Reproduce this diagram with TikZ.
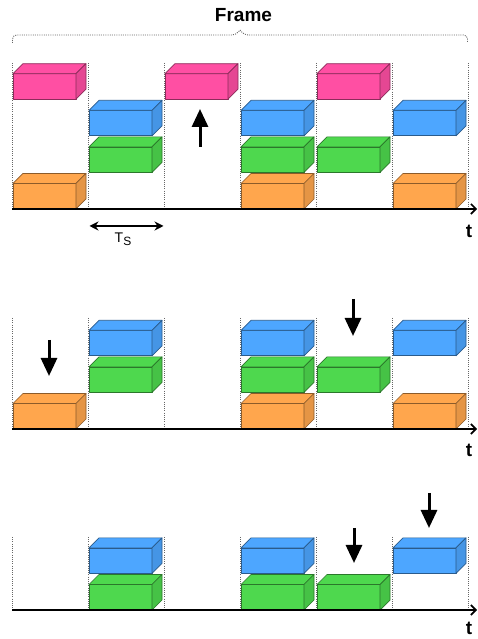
\documentclass[tikz,border=0pt]{standalone}
\usepackage{fontspec}
\setmainfont{Liberation Sans}
\usetikzlibrary{arrows.meta}
\definecolor{cpink}{HTML}{FF4FA3}
\definecolor{cblue}{HTML}{4DA6FF}
\definecolor{cgreen}{HTML}{4ED84E}
\definecolor{corange}{HTML}{FFA64D}
\definecolor{cgrid}{HTML}{666666}
\newcommand{\mybox}[3]{%
  % #1 = left x, #2 = bottom y, #3 = colour
  \filldraw[boxedge,draw=#3!55!black,fill=#3] (#1,#2) rectangle ++(63,25.5);
  \filldraw[boxedge,draw=#3!55!black,fill=#3] (#1,#2+25.5) -- ++(10,10) -- ++(63,0) -- ++(-10,-10) -- cycle;
  \filldraw[boxedge,draw=#3!55!black,fill=#3!90!black] (#1+63,#2) -- ++(10,10) -- ++(0,25.5) -- ++(-10,-10) -- cycle;
}
\begin{document}
\begin{tikzpicture}[x=1pt,y=1pt,
  boxedge/.style={line width=0.7pt,line join=round},
  gridline/.style={cgrid,line width=0.9pt,dash pattern=on 1pt off 1.2pt},
  axis/.style={black,line width=1.8pt,-{Straight Barb[length=5pt,width=10pt,line width=1.6pt]}},
  evt/.style={black,line width=3pt,-{Triangle[length=18pt,width=16pt]}},
  period/.style={black,line width=1.3pt,{Stealth[length=9pt,width=9pt]}-{Stealth[length=9pt,width=9pt]}},
  lbl/.style={inner sep=0pt,font=\bfseries\fontsize{19}{19}\selectfont}]
\useasboundingbox (0,0) rectangle (477,639);

% ---------- Frame brace ----------
\node[lbl] (frame) at (243.5,624) {Frame};
\draw[gridline,rounded corners=4pt] (12.5,596) -- (12.5,604) -- (236,604) -- (240,609);
\draw[gridline,rounded corners=4pt] (240,609) -- (244,604) -- (467.5,604) -- (467.5,596);

% ---------- grid lines ----------
\foreach \x in {12,88,164,240,316,392,468} {
  \draw[gridline] (\x,576) -- (\x,430);
  \draw[gridline] (\x,321) -- (\x,210);
  \draw[gridline] (\x,102) -- (\x,29);
}

% ---------- panel 1 (axis at 430) ----------
\mybox{13}{430}{corange}
\mybox{13}{539.8}{cpink}
\mybox{89}{466.6}{cgreen}
\mybox{89}{503.2}{cblue}
\mybox{165}{539.8}{cpink}
\mybox{241}{430}{corange}
\mybox{241}{466.6}{cgreen}
\mybox{241}{503.2}{cblue}
\mybox{317}{466.6}{cgreen}
\mybox{317}{539.8}{cpink}
\mybox{393}{430}{corange}
\mybox{393}{503.2}{cblue}
\coordinate (a1) at (12,430);
\coordinate (a1e) at (477,430);
\draw[axis] (a1) -- (a1e);
\node[lbl] (t1) at (469,408) {t};
\coordinate (up1) at (200,492);
\coordinate (up1e) at (200,530);
\draw[evt] (up1) -- (up1e);
\coordinate (ts1) at (89.5,413);
\coordinate (ts2) at (163.5,413);
\draw[period] (ts1) -- (ts2);
\node[inner sep=0pt] (ts) at (123,400) {\fontsize{14}{14}\selectfont T\raisebox{-3pt}{\fontsize{12}{12}\selectfont S}};

% ---------- panel 2 (axis at 210) ----------
\mybox{13}{210}{corange}
\mybox{89}{246.6}{cgreen}
\mybox{89}{283.2}{cblue}
\mybox{241}{210}{corange}
\mybox{241}{246.6}{cgreen}
\mybox{241}{283.2}{cblue}
\mybox{317}{246.6}{cgreen}
\mybox{393}{210}{corange}
\mybox{393}{283.2}{cblue}
\coordinate (a2) at (12,210);
\coordinate (a2e) at (477,210);
\draw[axis] (a2) -- (a2e);
\node[lbl] (t2) at (469,189) {t};
\coordinate (d1) at (49,299);
\coordinate (d1e) at (49,263);
\draw[evt] (d1) -- (d1e);
\coordinate (d2) at (353,340);
\coordinate (d2e) at (353,303);
\draw[evt] (d2) -- (d2e);

% ---------- panel 3 (axis at 29) ----------
\mybox{89}{29}{cgreen}
\mybox{89}{65.6}{cblue}
\mybox{241}{29}{cgreen}
\mybox{241}{65.6}{cblue}
\mybox{317}{29}{cgreen}
\mybox{393}{65.6}{cblue}
\coordinate (a3) at (12,29);
\coordinate (a3e) at (477,29);
\draw[axis] (a3) -- (a3e);
\node[lbl] (t3) at (469,10.5) {t};
\coordinate (d3) at (354,111);
\coordinate (d3e) at (354,76);
\draw[evt] (d3) -- (d3e);
\coordinate (d4) at (429,146);
\coordinate (d4e) at (429,111);
\draw[evt] (d4) -- (d4e);
\end{tikzpicture}
\end{document}
